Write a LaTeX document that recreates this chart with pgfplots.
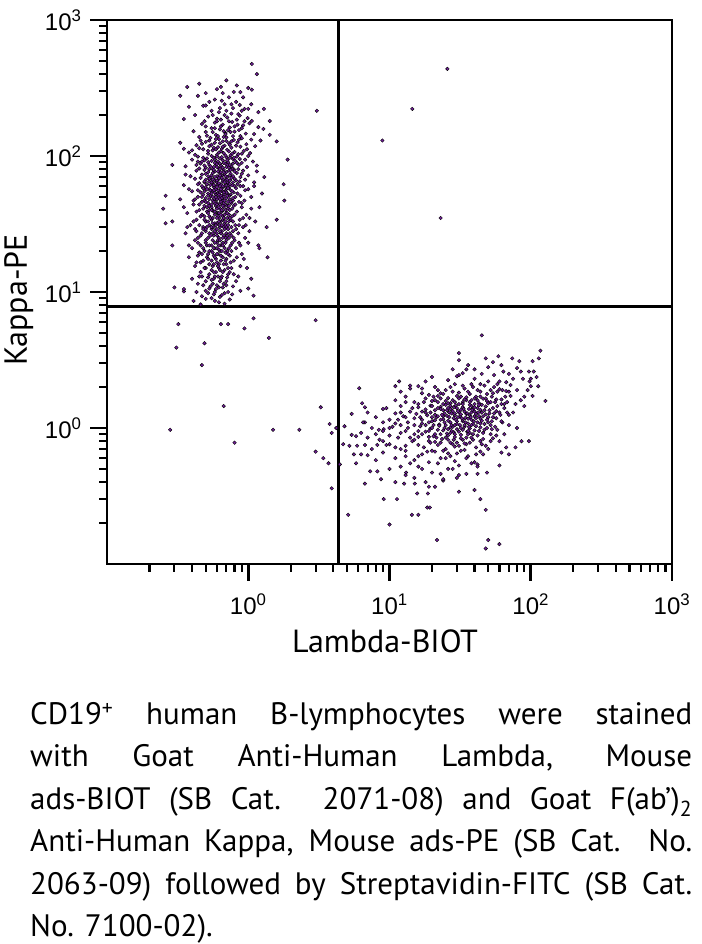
\documentclass[border=0pt]{standalone}
\usepackage{fontspec}
\setmainfont{PT Sans}
\newfontfamily\tickfont{Liberation Sans}
\usepackage{pgfplots}
\pgfplotsset{compat=1.18}
\definecolor{dotpurple}{RGB}{112,30,152}
\begin{document}
\begin{tikzpicture}[x=1bp,y=1bp]
\path[use as bounding box] (0,0) rectangle (702,944);
\begin{axis}[
  at={(107bp,380bp)}, anchor=south west,
  scale only axis, width=565bp, height=544bp,
  xmode=log, ymode=log,
  xmin=0.1, xmax=1000, ymin=0.1, ymax=1000,
  xtick={1,10,100,1000}, ytick={1,10,100,1000},
  xticklabels={10\textsuperscript{0},10\textsuperscript{1},10\textsuperscript{2},10\textsuperscript{3}},
  yticklabels={10\textsuperscript{0},10\textsuperscript{1},10\textsuperscript{2},10\textsuperscript{3}},
  minor xtick={0.2,0.3,0.4,0.5,0.6,0.7,0.8,0.9,2,3,4,5,6,7,8,9,20,30,40,50,60,70,80,90,200,300,400,500,600,700,800,900},
  minor ytick={0.2,0.3,0.4,0.5,0.6,0.7,0.8,0.9,2,3,4,5,6,7,8,9,20,30,40,50,60,70,80,90,200,300,400,500,600,700,800,900},
  tick pos=left,
  tick align=outside,
  major tick length=17bp, minor tick length=8bp,
  major tick style={black, line width=2.8bp},
  minor tick style={black, line width=2.2bp},
  axis line style={black, line width=2.8bp},
  xticklabel style={font=\tickfont\fontsize{24bp}{24bp}\selectfont, anchor=base, yshift=-34bp},
  yticklabel style={font=\tickfont\fontsize{24bp}{24bp}\selectfont, anchor=east, xshift=-5bp},
  xlabel={Lambda-BIOT},
  ylabel={Kappa-PE},
  xlabel style={font=\fontsize{32bp}{38bp}\selectfont, at={(axis description cs:0.492,-0.1636)}, anchor=base},
  ylabel style={font=\fontsize{32bp}{38bp}\selectfont, at={(axis description cs:-0.1416,0.485)}, anchor=base, rotate=0},
]
% upper-left population (Kappa+)
\addplot[only marks, mark=*, mark size=1.8bp, mark options={draw=none, fill=dotpurple}] coordinates {
(1.06,475) (1.15,400) (0.37,322) (0.33,277) (0.64,322) (0.44,277) (0.79,296) (1.0,316) (1.06,307)
(0.48,234) (0.38,230) (0.35,187) (0.65,255) (0.68,240) (0.76,240) (0.87,237) (0.94,222) (1.0,222)
(1.18,210) (1.29,222) (0.62,210) (0.85,203) (1.06,181) (1.42,181) (1.18,163) (1.28,158) (1.42,143)
(1.59,128) (0.33,125) (0.35,113) (0.29,86) (1.9,94) (1.78,62) (1.8,47) (1.59,34) (0.26,51) (0.25,41)
(0.26,32) (0.29,33) (0.29,22) (0.3,10.8) (0.35,10.1) (1.37,18) (1.18,22) (1.09,9.4) (1.0,10.6)
(0.68,8.2) (0.46,8.1) (0.57,9.6)
(0.52,195) (0.6,188) (0.71,192) (0.83,185) (0.47,172) (0.58,176) (0.66,170) (0.77,178) (0.92,168)
(1.02,174) (0.55,160) (0.63,157) (0.74,162) (0.86,155) (0.5,150) (0.69,148) (0.8,151) (0.96,146)
(0.41,152) (0.59,143) (0.88,140)
(0.45,138) (0.54,136) (0.62,133) (0.7,137) (0.79,131) (0.9,135) (1.05,132) (0.5,127) (0.58,125)
(0.66,128) (0.73,124) (0.84,126) (0.97,122) (0.43,120) (0.53,118) (0.61,116) (0.68,119) (0.76,115)
(0.88,117) (1.12,118) (0.48,112) (0.56,110) (0.64,108) (0.71,111) (0.8,107) (0.93,109) (0.38,106)
(0.52,104) (0.6,102) (0.67,105) (0.75,101) (0.85,103) (1.0,100) (0.44,99) (0.57,97) (0.63,96)
(0.7,98) (0.78,95)
(0.4,94) (0.49,93) (0.55,92) (0.61,91) (0.66,93) (0.72,90) (0.81,92) (0.9,89) (1.08,91) (0.46,88)
(0.53,86) (0.59,87) (0.64,85) (0.69,88) (0.76,84) (0.86,86) (0.98,83) (0.36,84) (0.5,82) (0.56,80)
(0.62,81) (0.67,79) (0.73,82) (0.79,80) (0.92,78) (0.43,78) (0.52,76) (0.58,77) (0.63,75) (0.7,76)
(0.75,74) (0.83,75) (1.15,77) (0.47,73) (0.55,72) (0.6,71) (0.65,72) (0.71,70) (0.78,71) (0.88,70)
(0.39,71)
(0.42,68) (0.5,67) (0.54,69) (0.58,66) (0.62,68) (0.66,65) (0.69,67) (0.74,66) (0.8,68) (0.87,65)
(0.95,67) (1.1,64) (0.45,63) (0.51,62) (0.56,63) (0.6,61) (0.64,62) (0.68,60) (0.72,63) (0.77,61)
(0.84,62) (0.92,60) (0.35,61) (0.48,58) (0.53,57) (0.57,59) (0.61,56) (0.65,58) (0.7,57) (0.75,56)
(0.82,58) (1.0,57) (0.4,55) (0.46,54) (0.52,53) (0.55,55) (0.59,52) (0.63,54) (0.67,52) (0.71,53)
(0.79,54) (0.88,51) (1.25,53) (0.44,50) (0.5,49) (0.54,51) (0.58,48) (0.62,50) (0.66,47) (0.7,49)
(0.74,48) (0.81,50) (0.94,47) (0.33,48) (0.47,46) (0.52,45) (0.56,47) (0.6,45) (0.64,46) (0.69,44)
(0.76,45) (0.86,46)
(0.41,44) (0.49,43) (0.55,42) (0.59,43) (0.63,41) (0.67,42) (0.72,41) (0.79,43) (0.9,42) (1.05,41)
(0.45,40) (0.51,39) (0.56,40) (0.61,38) (0.65,39) (0.7,38) (0.74,40) (0.83,39) (0.97,37) (0.37,38)
(0.47,37) (0.53,36) (0.58,37) (0.62,35) (0.66,36) (0.71,35) (0.77,36) (0.87,34) (0.43,34) (0.5,33)
(0.55,34) (0.6,32) (0.64,33) (0.68,32) (0.73,33) (0.81,31) (1.12,33) (0.39,31) (0.48,30) (0.53,31)
(0.57,30) (0.63,30) (0.69,31) (0.76,30) (0.92,30)
(0.42,29) (0.5,28) (0.55,29) (0.6,27) (0.65,28) (0.7,27) (0.78,28) (0.85,27) (1.02,28) (0.36,27)
(0.46,26) (0.52,25) (0.57,26) (0.62,25) (0.67,26) (0.73,25) (0.8,24) (0.95,25) (0.44,23) (0.5,23)
(0.55,22) (0.6,23) (0.64,22) (0.69,23) (0.75,22) (0.88,22) (0.4,21) (0.48,21) (0.53,20) (0.58,21)
(0.63,20) (0.71,20) (0.82,21) (1.2,21)
(0.45,19.5) (0.52,19) (0.57,18.5) (0.61,19) (0.66,18) (0.74,18.5) (0.9,19) (0.38,18) (0.48,17)
(0.55,17) (0.6,16.5) (0.64,17) (0.7,16) (0.79,17) (0.42,15.5) (0.5,15) (0.56,15.5) (0.62,15)
(0.68,14.5) (0.76,15) (0.98,15) (0.46,14) (0.53,13.5) (0.59,14) (0.65,13) (0.72,13.5) (0.85,13)
(0.4,12.5) (0.5,12) (0.57,12.5) (0.63,12) (0.7,12) (1.05,12.5)
(0.44,11.5) (0.54,11) (0.6,11.2) (0.66,10.8) (0.78,11) (0.35,10.5) (0.5,10.2) (0.58,10) (0.68,9.8)
(0.88,10.2) (0.47,9.3) (0.55,9) (0.63,9.2) (0.74,8.8) (0.41,8.6) (0.62,8.4)
(0.57,115) (0.65,113) (0.74,121) (0.53,130) (0.61,140) (0.69,145) (0.78,140) (0.56,150) (0.64,165)
(0.72,155) (0.6,180) (0.68,200) (0.76,205) (0.55,215) (0.63,225) (0.87,198) (0.49,180) (0.8,165)
(0.9,160) (0.46,130) (0.4,110) (0.98,112) (0.51,96) (0.6,99) (0.74,97) (0.83,99) (0.47,91) (0.58,89)
(0.63,88) (0.71,86) (0.78,88) (0.95,94) (0.54,84) (0.6,83) (0.66,82) (0.73,78) (0.57,79) (0.49,79)
(0.64,76) (0.8,77) (0.68,74) (0.52,71) (0.58,70) (0.74,72) (0.62,69) (0.56,67) (0.6,64) (0.66,67)
(0.71,64) (0.53,65) (0.49,64) (0.78,64) (0.63,60) (0.57,61) (0.7,61) (0.5,59) (0.59,57) (0.66,55)
(0.73,59) (0.54,56) (0.61,53) (0.69,55) (0.58,54) (0.75,52) (0.48,52) (0.64,51) (0.56,50) (0.6,48)
(0.67,50) (0.72,46) (0.53,48) (0.78,47) (0.49,47) (0.58,45) (0.63,44) (0.55,44) (0.67,45) (0.71,43)
(0.51,42) (0.6,41) (0.65,40) (0.57,39) (0.53,40) (0.62,38) (0.68,37) (0.73,37) (0.49,36) (0.56,35)
(0.61,36) (0.66,34) (0.75,34) (0.52,33) (0.58,32) (0.63,31) (0.7,30) (0.55,30) (0.6,29) (0.67,30)
(0.72,29) (0.48,29) (0.53,27) (0.58,28) (0.64,27) (0.69,25) (0.56,24) (0.61,24) (0.66,23) (0.76,26)
(0.51,22) (0.57,21) (0.62,22) (0.68,21) (0.47,19) (0.55,20) (0.6,19) (0.65,20) (0.72,19) (0.59,17.5)
(0.53,16) (0.67,16) (0.63,14.5) (0.57,14) (0.47,13) (0.74,14) (0.61,13) (0.55,12.3) (0.67,11.5)
(0.59,10.5) (0.52,9.8) (0.72,10) (0.82,12) (0.88,15.5) (0.93,17.5) (0.43,16.5) (0.38,22) (0.37,30)
(0.35,42) (0.38,57) (0.36,73) (0.43,86) (0.44,62) (0.41,47) (0.44,25) (1.05,50) (1.1,60) (1.0,72)
(1.15,85) (1.3,70) (1.2,42) (1.35,30) (1.0,23) (0.96,31) (1.02,35) (0.95,56) (0.9,74) (1.03,105)
(1.22,130) (1.1,145) (0.99,190) (1.05,240) (0.82,250) (0.73,270) (0.58,260) (0.5,235) (0.42,200)
(0.88,295) (0.6,310) (0.7,360) (0.45,340) (0.83,330)
(0.51,141) (0.59,133) (0.67,138) (0.76,128) (0.86,132) (0.47,123) (0.55,121) (0.63,124) (0.7,129)
(0.82,119) (0.45,114) (0.52,109) (0.59,112) (0.66,117) (0.73,108) (0.9,104) (0.42,102) (0.55,100)
(0.62,106) (0.69,101) (0.77,104) (0.48,97) (0.58,94) (0.65,98) (0.71,93) (0.79,97) (0.87,95) (0.44,91)
(0.52,90) (0.6,87) (0.67,89) (0.74,86) (0.83,89) (0.49,85) (0.57,83) (0.63,80) (0.7,83) (0.77,80)
(0.45,81) (0.53,80) (0.61,77) (0.67,76) (0.75,79) (0.85,80) (0.5,74) (0.56,75) (0.63,72) (0.69,71)
(0.76,69) (0.46,69) (0.53,68) (0.6,66) (0.65,69) (0.71,67) (0.82,66) (0.49,65) (0.55,64) (0.62,63)
(0.68,64) (0.74,62) (0.88,60) (0.47,60) (0.54,61) (0.6,59) (0.66,60) (0.72,58) (0.8,60) (0.51,57)
(0.57,56) (0.64,57) (0.7,54) (0.77,55) (0.44,56) (0.49,55) (0.55,53) (0.62,52) (0.67,54) (0.73,51)
(0.84,53) (0.47,50) (0.52,51) (0.59,50) (0.65,49) (0.71,51) (0.78,49) (0.42,48) (0.5,46) (0.57,46)
(0.63,48) (0.68,47) (0.75,46) (0.9,45) (0.45,44) (0.53,43) (0.6,44) (0.66,43) (0.73,43) (0.81,44)
(0.48,41) (0.55,40) (0.62,42) (0.69,40) (0.77,41) (0.43,39) (0.52,38) (0.58,39) (0.64,37) (0.71,38)
(0.8,37) (0.46,36) (0.54,35) (0.6,35) (0.67,35) (0.74,35) (0.92,35) (0.41,33) (0.49,34) (0.56,32)
(0.62,33) (0.69,33) (0.78,33) (0.45,31) (0.51,30) (0.59,31) (0.65,31) (0.72,31) (0.86,31) (0.43,28)
(0.5,29) (0.56,27) (0.63,28) (0.68,29) (0.74,27) (0.82,29) (0.47,27) (0.54,26) (0.6,26) (0.66,25)
(0.71,26) (0.79,25) (0.42,24) (0.5,24) (0.58,23) (0.63,24) (0.7,24) (0.77,23) (0.46,22) (0.53,22)
(0.6,21) (0.66,22) (0.73,21) (0.86,23) (0.49,20) (0.56,19.5) (0.62,20.5) (0.69,19.5) (0.76,20)
(0.44,18.5) (0.51,18) (0.58,18) (0.64,18.5) (0.7,17.5) (0.83,18) (0.46,16.5) (0.52,17.5) (0.57,16)
(0.62,16) (0.69,17) (0.75,16.5) (0.49,15) (0.55,14.5) (0.61,15.5) (0.66,14) (0.72,15) (0.45,13)
(0.52,12.8) (0.58,13) (0.64,12.6) (0.71,12.8) (0.79,13.5) (0.48,11.2) (0.56,11.5) (0.62,10.8)
(0.7,11.2) (0.43,10) (0.53,10.6) (0.65,9.5) (0.77,9.6) (0.5,8.9) (0.58,8.6)
(0.56,200) (0.64,185) (0.73,180) (0.5,165) (0.58,160) (0.67,152) (0.75,150) (0.84,170) (0.94,180)
(0.78,225) (0.7,215) (0.9,215) (0.53,250) (0.66,290) (0.92,270) (0.5,290)
};
% lower-right population (Lambda+)
\addplot[only marks, mark=*, mark size=1.8bp, mark options={draw=none, fill=dotpurple}] coordinates {
(117,3.7) (103,3.1) (114,3.25) (83,3.1) (74,3.25) (80,2.76) (85,2.6) (97,2.6) (110,2.37) (113,2.03)
(103,1.72) (98,2.2) (100,2.03) (127,1.58) (59,3.37) (54,3.05) (48,3.25) (31,3.55) (31,3.15) (36,2.9)
(33,2.53) (45,4.8) (31,2.45) (20,2.37) (16,2.03) (11.7,2.2) (11,2.03) (6.1,1.96) (6.4,1.52)
(6.7,1.42) (5.4,1.27) (4.8,1.03) (5.4,0.89) (5.8,0.87) (6.3,0.92) (6.7,1.1) (8.4,0.97) (9.1,0.98)
(9.0,1.38) (4.7,0.76) (5.2,0.74) (5.9,0.74) (6.7,0.75) (5.6,0.64) (6.3,0.64) (5.8,0.55) (7.0,0.63)
(8.2,0.75) (7.3,0.48) (8.2,0.48) (8.7,0.42) (6.7,0.39) (9.1,0.30) (11.3,0.30) (12.7,0.39) (13.1,0.47)
(15.1,0.39) (15.7,0.33) (18.7,0.33) (19,0.37) (21,0.37) (24,0.41) (31,0.34) (40,0.35) (44,0.30)
(31,0.45) (42,0.46) (49,0.47) (60,0.53) (42,0.54) (70,0.64) (78,0.72) (80,1.0) (86,0.8) (97,0.8)
(67,0.72) (62,0.66) (70,1.25) (61,1.25) (65,1.5) (57,1.33) (72,1.72) (67,1.87) (60,1.93) (54,1.8)
(55,2.45) (67,2.17) (72,2.07)
(21.7,0.15) (48,0.13) (60,0.14) (50,0.15) (10,0.195) (5.1,0.23) (14.4,0.23) (16,0.23) (18.5,0.26)
(19.3,0.26) (48,0.25)
(14,2.05) (17,1.95) (21,2.0) (25,1.9) (29,2.1) (34,1.95) (39,2.0) (44,1.85) (12,1.85) (47,2.05)
(52,1.9) (23,1.8) (31,1.82) (37,1.78) (58,1.85) (19,1.75)
(11,1.6) (13,1.7) (15,1.55) (18,1.65) (20,1.58) (22,1.72) (24,1.5) (26,1.66) (28,1.6) (30,1.72)
(33,1.55) (35,1.68) (38,1.6) (41,1.7) (43,1.52) (46,1.64) (49,1.58) (53,1.7) (56,1.55) (62,1.62)
(16,1.5) (27,1.52) (40,1.5)
(9.5,1.4) (12,1.45) (14,1.32) (16,1.42) (18,1.3) (19.5,1.46) (21,1.35) (23,1.43) (24.5,1.28) (26,1.4)
(28,1.33) (29.5,1.47) (31,1.3) (33,1.42) (35,1.27) (36.5,1.38) (38,1.45) (40,1.32) (42,1.4) (45,1.3)
(48,1.44) (51,1.35) (55,1.28) (11,1.28) (25,1.48) (32,1.36) (44,1.36)
(8,1.2) (10,1.15) (12.5,1.22) (13.5,1.1) (15,1.18) (17,1.08) (18.5,1.24) (20,1.12) (21.5,1.2)
(22.5,1.06) (24,1.16) (25.5,1.23) (27,1.1) (28.5,1.18) (30,1.07) (31.5,1.21) (33,1.12) (34.5,1.19)
(36,1.08) (38,1.15) (40,1.22) (42,1.1) (44,1.17) (47,1.07) (50,1.2) (53,1.12) (57,1.18) (63,1.1)
(11,1.08) (26,1.13) (29,1.24) (37,1.24)
(7.5,1.0) (9,0.95) (10.5,1.02) (12,0.92) (13.5,1.0) (15,0.9) (16.5,1.03) (18,0.94) (19.5,0.99)
(21,0.9) (22.5,1.04) (24,0.96) (25.5,0.91) (27,1.01) (28.5,0.93) (30,0.98) (32,0.89) (34,1.02)
(35.5,0.94) (37,0.99) (39,0.9) (41,1.03) (43,0.95) (46,0.92) (49,1.0) (52,0.9) (58,0.97) (20,1.0)
(29,0.9)
(8.5,0.82) (10,0.76) (11.5,0.85) (13,0.74) (14.5,0.8) (16,0.86) (17.5,0.72) (19,0.8) (20.5,0.87)
(22,0.75) (23.5,0.83) (25,0.7) (27,0.78) (29,0.86) (31,0.74) (33,0.82) (35,0.76) (38,0.85) (41,0.72)
(44,0.8) (48,0.74) (54,0.84) (12,0.7) (26,0.88)
(9,0.66) (11,0.6) (13,0.68) (15,0.58) (17,0.64) (19,0.56) (21,0.67) (23,0.6) (26,0.65) (29,0.57)
(32,0.68) (36,0.62) (40,0.56) (46,0.64) (14,0.55)
(10,0.5) (13,0.45) (16,0.52) (20,0.47) (24,0.42) (28,0.5) (35,0.46) (42,0.52) (18,0.4)
(19,1.1) (21,1.25) (23,1.15) (25,1.05) (26.5,1.3) (28,1.02) (30,1.12) (32,1.26) (34,1.05) (36,1.17)
(38,1.3) (39,1.07) (41,1.27) (43,1.22) (45,1.13) (48,1.26) (52,1.05) (22,0.97) (24.5,1.0) (27.5,0.95)
(31,0.94) (33,0.97) (37,0.92) (40,0.96) (44,1.01) (47,0.97) (17,1.15) (15.5,1.27) (18,1.37) (20,1.45)
(22,1.55) (25,1.58) (27,1.45) (30,1.4) (33,1.5) (35,1.6) (37,1.48) (39,1.38) (42,1.6) (45,1.48)
(50,1.52) (54,1.4) (58,1.45) (60,1.3) (65,1.4) (68,1.55) (75,1.3) (70,1.05) (65,0.9) (60,0.8)
(56,1.02) (20.5,1.7) (24,1.78) (28,1.85) (32,1.7) (36,1.85) (42,1.9) (49,1.78) (55,2.0) (60,2.2)
(40,2.3) (45,2.5) (26,2.25) (30,2.4) (18,2.2) (14,1.95) (35,2.7) (50,2.8) (64,2.6) (75,2.3) (80,1.9)
(85,1.6) (90,1.45) (95,1.9) (88,2.3) (105,2.6) (16,0.95) (14,0.85) (12,1.05) (10,0.88) (9,1.1)
(8,0.9) (7,0.85) (6.5,1.1) (7,1.3) (13,0.62) (16,0.75) (18.5,0.67) (21,0.79) (24,0.68) (27,0.62)
(29,0.73) (34,0.69) (37,0.78) (44,0.67) (50,0.7) (31,0.53) (26,0.5) (22,0.55) (17,0.5) (12,0.52)
(38,0.55) (15,0.43) (23,0.46) (30,0.43) (11,0.4) (8,0.58) (7.5,0.7) (9.5,0.75) (26,0.82) (28,0.76)
(23,0.9) (19,0.86) (35,0.85) (46,0.83) (33,1.15) (29,1.28) (24,1.22) (20,1.2) (27,1.38) (31,1.5)
(23,1.38)
(16.5,1.2) (18,1.05) (19.5,1.3) (21,1.14) (22,1.4) (23.5,1.25) (24.5,1.1) (25.5,1.35) (26.5,1.2)
(27.5,1.05) (28.5,1.42) (29.5,1.15) (30.5,1.33) (31.5,1.05) (32.5,1.18) (33.5,1.38) (34.5,1.1)
(35.5,1.28) (36.5,1.02) (37.5,1.2) (38.5,1.36) (39.5,1.12) (41,1.18) (42.5,1.3) (44,1.08) (46,1.22)
(49,1.15) (51,1.28) (54,1.2) (17,1.32) (19,0.95) (20.5,1.05) (22,1.22) (24,1.35) (26,0.98) (27.5,1.28)
(29,1.05) (30.5,1.2) (32,1.0) (34,1.32) (36,0.95) (38,1.05) (40,1.42) (43,1.47) (47,1.35) (50,1.1)
(15,1.05) (13,1.2) (14.5,1.4) (17.5,1.55) (21,1.6) (23,1.65) (26,1.52) (29,1.55) (31,1.65) (34,1.62)
(37,1.55) (40,1.65) (44,1.7) (48,1.65) (52,1.55) (57,1.62) (62,1.5) (66,1.7) (70,1.85) (63,1.9)
(58,2.1) (50,2.2) (44,2.1) (38,2.1) (33,2.05) (27,2.0) (22,1.9) (17,1.8) (13,1.55) (12,1.3)
(11.5,1.15) (10,1.0) (13,0.95) (15,0.82) (17,0.9) (19.5,0.78) (21.5,0.85) (23,0.78) (25,0.85)
(27,0.92) (28.5,0.82) (30,0.78) (32,0.84) (34,0.77) (36,0.9) (39,0.82) (42,0.88) (45,0.76) (52,0.8)
(57,0.88) (20,0.68) (25,0.6) (30,0.65) (35,0.6) (41,0.64) (16,0.62) (11,0.72) (9,0.8) (53,0.98)
(62,1.12) (68,1.3) (78,1.5) (90,1.7) (100,2.3) (70,2.5) (62,2.9) (40,2.7) (28,2.7)
};
% scattered events
\addplot[only marks, mark=*, mark size=1.8bp, mark options={draw=none, fill=dotpurple}] coordinates {
(3.0,6.2) (3.26,1.42) (3.77,1.07) (3.9,0.92) (4.2,1.0) (3.0,0.67) (3.4,0.6) (3.7,0.55) (4.45,0.54)
(3.9,0.36) (2.3,0.97) (1.5,0.97) (0.8,0.78) (0.28,0.97) (0.67,1.45) (0.47,2.9) (0.49,4.2) (0.31,3.9)
(1.4,4.6) (0.32,5.8) (0.64,5.8) (0.72,5.8) (0.94,5.4) (1.09,6.4) (3.06,215)
(25.7,437) (14.5,222) (8.9,130) (23,35)
};
\addplot[black, line width=2.8bp, no marks] coordinates {(4.36,0.1) (4.36,1000)};
\addplot[black, line width=2.8bp, no marks] coordinates {(0.1,7.8) (1000,7.8)};
\end{axis}
\node[anchor=base west, inner sep=0pt, align=left, font=\fontsize{31bp}{42.5bp}\selectfont] at (30,7) {%
\makebox[662bp][s]{CD19\textsuperscript{+} human B-lymphocytes were stained}\\
\makebox[662bp][s]{with Goat Anti-Human Lambda, Mouse}\\
\makebox[662bp][s]{ads-BIOT (SB Cat. 2071-08) and Goat F(ab’)\textsubscript{2}}\\
\makebox[662bp][s]{Anti-Human Kappa, Mouse ads-PE (SB Cat. No.}\\
\makebox[662bp][s]{2063-09) followed by Streptavidin-FITC (SB Cat.}\\
No. 7100-02).};
\end{tikzpicture}
\end{document}
